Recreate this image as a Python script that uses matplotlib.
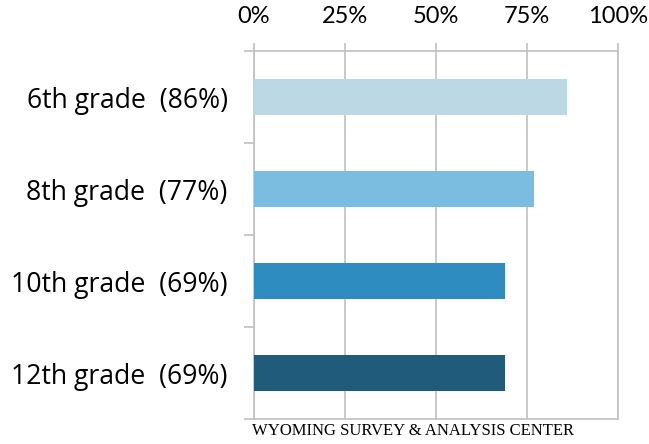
import matplotlib.pyplot as plt
from matplotlib.ticker import FixedLocator

grades = ['6th grade', '8th grade', '10th grade', '12th grade']
pcts = [86, 77, 69, 69]
bar_colors = ['#bcd8e4', '#7abde0', '#2f8cc1', '#205b7b']
x_ticks = [0, 25, 50, 75, 100]

grid_col = '#c0c0c0'

fig = plt.figure(figsize=(6.49, 4.44), dpi=100)
ax = fig.add_axes([0.3914, 0.0563, 0.5604, 0.8288])

pos = list(range(len(grades)))
ax.barh(pos, pcts, height=0.4, color=bar_colors, zorder=3)
ax.set_ylim(len(grades) - 0.5, -0.5)
ax.set_xlim(0, 100)

# percent axis on top
ax.xaxis.tick_top()
ax.set_xticks(x_ticks)
ax.set_xticklabels([f'{t}%' for t in x_ticks], fontsize=17, family='Lato')
ax.tick_params(axis='x', length=6, width=1.2, color=grid_col, pad=11)
ax.grid(axis='x', color=grid_col, linewidth=1.2, zorder=0)

# category labels, with tick marks between categories
ax.set_yticks(pos)
ax.set_yticklabels([f'{g}  ({p}%)' for g, p in zip(grades, pcts)],
                   fontsize=19.2, family='Open Sans')
ax.tick_params(axis='y', which='major', length=0, pad=19)
ax.yaxis.set_minor_locator(FixedLocator([i - 0.5 for i in range(len(grades) + 1)]))
ax.tick_params(axis='y', which='minor', length=7, width=1.2, color=grid_col)

for s in ax.spines.values():
    s.set_color(grid_col)
    s.set_linewidth(1.2)

fig.text(0.389, 0.012, 'WYOMING SURVEY & ANALYSIS CENTER', fontsize=12,
         family='Liberation Serif', ha='left', va='bottom')

fig.savefig('out.png', dpi=100)
